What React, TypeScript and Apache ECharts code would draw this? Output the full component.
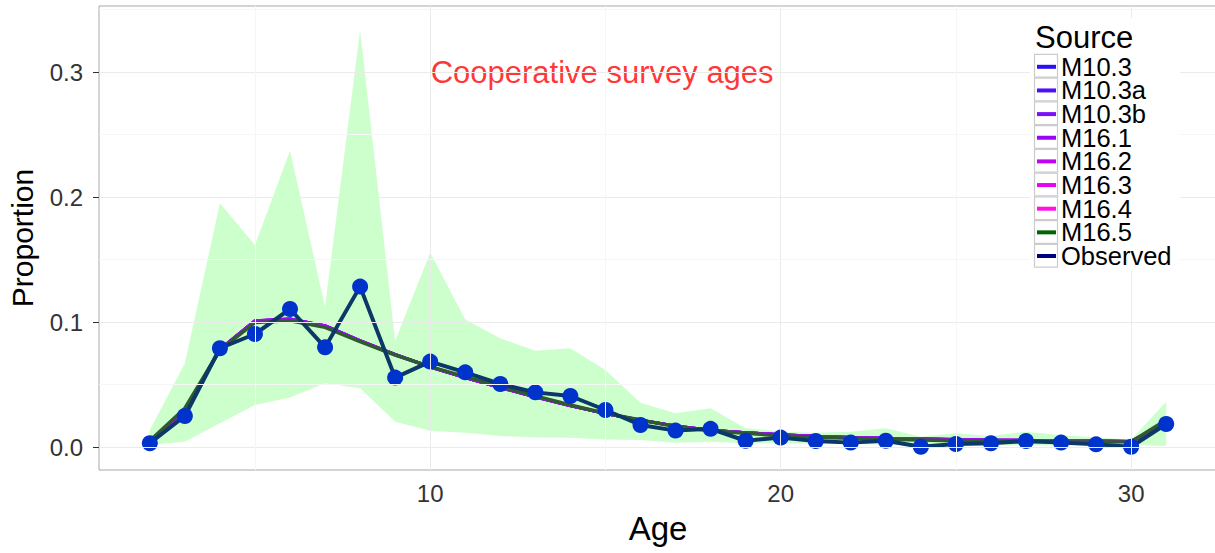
import React, { useEffect, useRef } from "react";
import * as echarts from "echarts";

const ages = [2, 3, 4, 5, 6, 7, 8, 9, 10, 11, 12, 13, 14, 15, 16, 17, 18, 19, 20, 21, 22, 23, 24, 25, 26, 27, 28, 29, 30, 31];

const observed = [0.003, 0.0248, 0.079, 0.0904, 0.1104, 0.0797, 0.1283, 0.0555, 0.0683, 0.0597, 0.0504, 0.0437, 0.0408, 0.0296, 0.0176, 0.0131, 0.0145, 0.005, 0.0075, 0.0048, 0.0035, 0.005, 0.0002, 0.0024, 0.003, 0.0048, 0.0035, 0.0021, 0.0002, 0.0184];

const bandUpper = [0.0136, 0.067, 0.195, 0.1616, 0.237, 0.1122, 0.3336, 0.085, 0.1555, 0.1021, 0.087, 0.077, 0.079, 0.0616, 0.0355, 0.027, 0.031, 0.015, 0.0123, 0.0115, 0.0123, 0.015, 0.0083, 0.011, 0.0088, 0.0123, 0.0096, 0.0077, 0.0061, 0.0363];
const bandLower = [0.0016, 0.0043, 0.019, 0.0336, 0.0397, 0.051, 0.047, 0.0203, 0.013, 0.0115, 0.0088, 0.0077, 0.0075, 0.0061, 0.0056, 0.0035, 0.0043, 0.003, 0.003, 0.0025, 0.0025, 0.002, 0.0015, 0.0015, 0.0015, 0.0015, 0.0015, 0.0015, 0.0016, 0.0008];

const m10_3 = [0.004, 0.029, 0.078, 0.1005, 0.102, 0.0968, 0.0848, 0.0738, 0.0641, 0.0556, 0.0477, 0.0402, 0.0332, 0.0268, 0.0215, 0.0167, 0.0134, 0.0114, 0.0097, 0.0085, 0.0076, 0.0069, 0.0064, 0.0059, 0.0055, 0.0052, 0.0049, 0.0047, 0.0045, 0.019];
const m10_3a = [0.004, 0.029, 0.078, 0.1006, 0.1021, 0.0968, 0.0848, 0.0738, 0.064, 0.0555, 0.0476, 0.0401, 0.0331, 0.0268, 0.0215, 0.0167, 0.0134, 0.0114, 0.0097, 0.0085, 0.0076, 0.0069, 0.0064, 0.0059, 0.0055, 0.0052, 0.0049, 0.0047, 0.0045, 0.019];
const m10_3b = [0.004, 0.0292, 0.0782, 0.1008, 0.1022, 0.0969, 0.0849, 0.0739, 0.064, 0.0555, 0.0476, 0.0401, 0.0331, 0.0268, 0.0215, 0.0168, 0.0135, 0.0115, 0.0098, 0.0086, 0.0077, 0.007, 0.0065, 0.006, 0.0056, 0.0053, 0.005, 0.0048, 0.0045, 0.0192];
const m16_1 = [0.004, 0.029, 0.078, 0.101, 0.1025, 0.097, 0.085, 0.074, 0.064, 0.0555, 0.0475, 0.04, 0.033, 0.0268, 0.0215, 0.0168, 0.0135, 0.0115, 0.0098, 0.0086, 0.0077, 0.007, 0.0065, 0.006, 0.0056, 0.0053, 0.005, 0.0048, 0.0045, 0.019];
const m16_2 = [0.004, 0.029, 0.078, 0.101, 0.1025, 0.097, 0.085, 0.074, 0.064, 0.0555, 0.0475, 0.04, 0.033, 0.0268, 0.0215, 0.0168, 0.0135, 0.0115, 0.0098, 0.0086, 0.0077, 0.007, 0.0065, 0.006, 0.0056, 0.0053, 0.005, 0.0048, 0.0045, 0.019];
const m16_3 = [0.004, 0.0288, 0.0778, 0.1009, 0.1024, 0.0969, 0.0849, 0.0739, 0.0641, 0.0556, 0.0476, 0.0401, 0.0331, 0.0268, 0.0215, 0.0168, 0.0135, 0.0115, 0.0098, 0.0086, 0.0077, 0.007, 0.0065, 0.006, 0.0056, 0.0053, 0.005, 0.0048, 0.0045, 0.0188];
const m16_4 = [0.004, 0.0288, 0.0778, 0.1009, 0.1024, 0.0969, 0.0849, 0.0739, 0.0641, 0.0556, 0.0476, 0.0401, 0.0331, 0.0268, 0.0215, 0.0168, 0.0135, 0.0115, 0.0098, 0.0086, 0.0077, 0.007, 0.0065, 0.006, 0.0056, 0.0053, 0.005, 0.0048, 0.0045, 0.0188];
const m16_5 = [0.005, 0.031, 0.0776, 0.0995, 0.101, 0.0957, 0.0843, 0.0736, 0.0643, 0.0563, 0.0483, 0.0408, 0.0336, 0.027, 0.0216, 0.0163, 0.013, 0.011, 0.009, 0.0078, 0.007, 0.0062, 0.0056, 0.005, 0.0046, 0.0043, 0.0041, 0.004, 0.0042, 0.0216];

const modelNames = ["M10.3", "M10.3a", "M10.3b", "M16.1", "M16.2", "M16.3", "M16.4", "M16.5"];
const modelValues = [m10_3, m10_3a, m10_3b, m16_1, m16_2, m16_3, m16_4, m16_5];
const legendColors = ["#2a10f5", "#4e10f8", "#7a10f5", "#9c05f2", "#c005f2", "#e605f2", "#ff10e8", "#006400"];
const lineColors = ["#2a10f5", "#4e10f8", "#7a10f5", "#9c05f2", "#a010f0", "#a010f0", "#9a10f0", "#2f5a30"];

const observedName = "Observed";
const observedLegendColor = "#000080";

const xTicks = [10, 20, 30];
const yTicks = [0, 0.1, 0.2, 0.3];
const xMinor = [5, 15, 25];
const yMinor = [0.05, 0.15, 0.25, 0.35];

const annotationText = "Cooperative survey ages";
const annotationPos = [10, 0.3];
const legendTitle = "Source";

const FONT = "'Liberation Sans', Arial, sans-serif";

export default function App() {
  const ref = useRef<HTMLDivElement>(null);
  useEffect(() => {
    document.body.style.margin = "0";
    const chart = echarts.init(ref.current!, null, { renderer: "svg" });

    const legendNames = [...modelNames, observedName];
    const legendCols = [...legendColors, observedLegendColor];
    const rowH = 23.75;
    const legTop = 53.8;

    const gridMarks = [
      ...xTicks.map((v) => ({ xAxis: v, lineStyle: { color: "#ebebeb", width: 1, type: "solid" } })),
      ...yTicks.map((v) => ({ yAxis: v, lineStyle: { color: "#ebebeb", width: 1, type: "solid" } })),
      ...xMinor.map((v) => ({ xAxis: v, lineStyle: { color: "#f6f6f6", width: 1, type: "solid" } })),
      ...yMinor.map((v) => ({ yAxis: v, lineStyle: { color: "#f6f6f6", width: 1, type: "solid" } })),
    ];

    const bandData = ages.map((a, i) => [a, bandLower[i], bandUpper[i]]);

    const series: any[] = [
      {
        name: "grid",
        type: "line",
        data: [],
        symbol: "none",
        silent: true,
        z: 1,
        markLine: {
          silent: true,
          symbol: "none",
          label: { show: false },
          data: gridMarks,
          animation: false,
        },
      },
      {
        name: "band",
        type: "custom",
        data: bandData,
        encode: { x: 0, y: [1, 2] },
        silent: true,
        z: 1,
        renderItem: (params: any, api: any) => {
          if (params.dataIndex !== 0) return null;
          const upper = bandData.map((d) => api.coord([d[0], d[2]]));
          const lower = bandData.map((d) => api.coord([d[0], d[1]])).reverse();
          return {
            type: "polygon",
            shape: { points: [...upper, ...lower] },
            style: { fill: "rgba(0,255,0,0.2)", stroke: "none" },
          };
        },
      },
      ...modelNames.map((n, k) => ({
        name: n,
        type: "line",
        data: ages.map((a, i) => [a, modelValues[k][i]]),
        symbol: "none",
        color: legendColors[k],
        lineStyle: { color: lineColors[k], width: k === 7 ? 3.5 : 3 },
        silent: true,
        z: 2,
      })),
      {
        name: observedName,
        type: "line",
        data: ages.map((a, i) => [a, observed[i]]),
        symbol: "circle",
        symbolSize: 16,
        color: observedLegendColor,
        itemStyle: { color: "#0033cc", borderWidth: 0 },
        lineStyle: { color: "#0b3866", width: 4 },
        silent: true,
        z: 3,
      },
      {
        name: "annotation",
        type: "scatter",
        data: [annotationPos],
        symbolSize: 1,
        itemStyle: { color: "rgba(0,0,0,0)" },
        label: {
          show: true,
          position: "right",
          distance: 0,
          formatter: annotationText,
          color: "#ff0000",
          fontSize: 31,
          fontFamily: FONT,
        },
        silent: true,
        z: 3,
      },
    ];

    const graphics: any[] = [
      {
        type: "rect",
        shape: { x: 1030, y: 18, width: 150, height: 253 },
        style: { fill: "#ffffff" },
        z: 10,
        silent: true,
      },
      {
        type: "text",
        x: 1035,
        y: 37,
        style: { text: legendTitle, fontSize: 31, fontFamily: FONT, fill: "#000", verticalAlign: "middle" },
        z: 11,
        silent: true,
      },
      ...legendNames.map((_, i) => ({
        type: "rect",
        shape: { x: 1034.5, y: legTop + i * rowH + 0.5, width: 23, height: rowH - 1 },
        style: { fill: "#ffffff", stroke: "#cccccc", lineWidth: 1.2 },
        z: 11,
        silent: true,
      })),
    ];

    chart.setOption({
      animation: false,
      backgroundColor: "#ffffff",
      textStyle: { fontFamily: FONT },
      grid: {
        left: 99,
        top: 6,
        width: 1118,
        height: 464,
        show: true,
        borderColor: "#a8a8a8",
        borderWidth: 1,
        backgroundColor: "#ffffff",
        containLabel: false,
        outerBoundsMode: "none",
      },
      xAxis: {
        type: "value",
        min: 0.55,
        max: 32.45,
        name: "Age",
        nameLocation: "middle",
        nameGap: 42,
        nameTextStyle: { fontSize: 33, color: "#000", fontFamily: FONT },
        axisLine: { show: false },
        splitLine: { show: false },
        axisTick: { show: true, length: 6, lineStyle: { color: "#333" }, customValues: xTicks },
        axisLabel: {
          customValues: xTicks,
          fontSize: 24,
          color: "#333",
          margin: 11,
          formatter: (v: number) => String(v),
        },
      },
      yAxis: {
        type: "value",
        min: -0.0184,
        max: 0.3528,
        name: "Proportion",
        nameLocation: "middle",
        nameGap: 62,
        nameTextStyle: { fontSize: 30, color: "#000", fontFamily: FONT },
        axisLine: { show: false },
        splitLine: { show: false },
        axisTick: { show: true, length: 6, lineStyle: { color: "#333" }, customValues: yTicks },
        axisLabel: {
          customValues: yTicks,
          fontSize: 24,
          color: "#333",
          margin: 16,
          formatter: (v: number) => v.toFixed(1),
        },
      },
      legend: {
        orient: "vertical",
        left: 1037,
        top: legTop,
        padding: 0,
        itemGap: -2.35,
        itemWidth: 19,
        itemHeight: 4,
        icon: "rect",
        selectedMode: false,
        z: 12,
        textStyle: { fontSize: 25.5, color: "#000", fontFamily: FONT },
        data: legendNames.map((n, i) => ({ name: n, icon: "rect", itemStyle: { color: legendCols[i], borderWidth: 0 } })),
      },
      graphic: graphics,
      series,
    });

    return () => chart.dispose();
  }, []);

  return <div ref={ref} style={{ width: 1215, height: 553, position: "absolute", left: 0, top: 0 }} />;
}
